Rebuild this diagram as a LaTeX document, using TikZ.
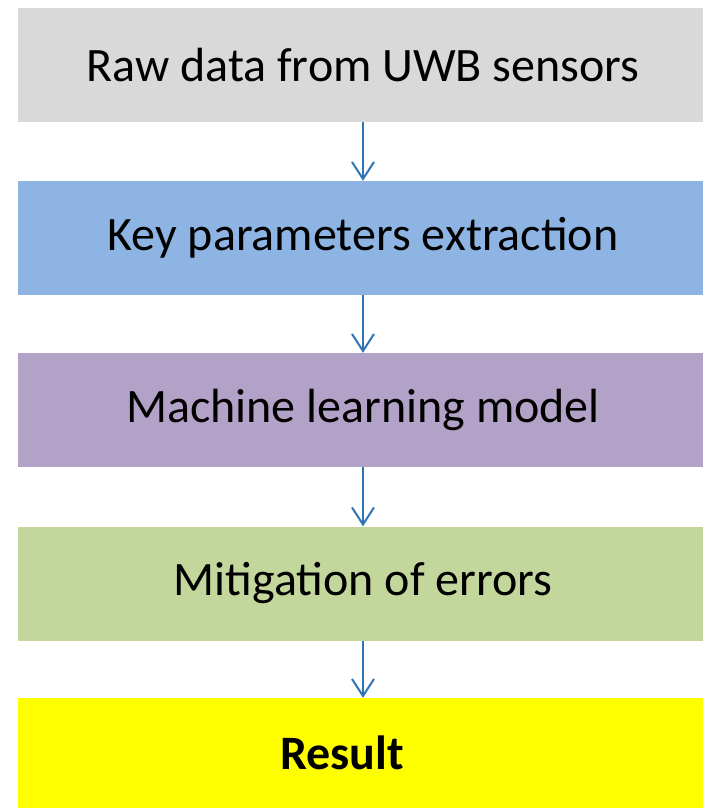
\documentclass[tikz,border=0pt]{standalone}
\usepackage{fontspec}
\setmainfont{Carlito}
\usetikzlibrary{arrows.meta}

\definecolor{rawgray}{HTML}{D9D9D9}
\definecolor{keyblue}{HTML}{8EB4E3}
\definecolor{mlpurple}{HTML}{B3A2C7}
\definecolor{mitgreen}{HTML}{C3D69B}
\definecolor{resyellow}{HTML}{FFFF00}
\definecolor{arrowblue}{HTML}{2E75B6}

\begin{document}
\begin{tikzpicture}[x=1pt, y=1pt,
  every node/.style={rectangle, inner sep=0pt, minimum width=690pt, minimum height=114pt, font=\fontsize{48}{58}\selectfont},
  flow/.style={draw=arrowblue, line width=2pt, -{Straight Barb[length=17pt, width=22pt]}}]
  \useasboundingbox (0,0) rectangle (702,-808);
  \node [fill=rawgray] (raw) at (363, -65) {Raw data from UWB sensors};
  \node [fill=keyblue] (key) at (363, -238) {Key parameters extraction};
  \node [fill=mlpurple] (ml) at (363, -410) {Machine learning model};
  \node [fill=mitgreen] (mit) at (363, -583.5) {Mitigation of errors};
  \node [fill=resyellow, minimum height=110pt] (res) at (363, -753) {\bfseries Result\hspace*{42pt}};
  \draw [flow] (raw) -- (key);
  \draw [flow] (key) -- (ml);
  \draw [flow] (ml) -- (mit);
  \draw [flow] (mit) -- (res);
\end{tikzpicture}
\end{document}
